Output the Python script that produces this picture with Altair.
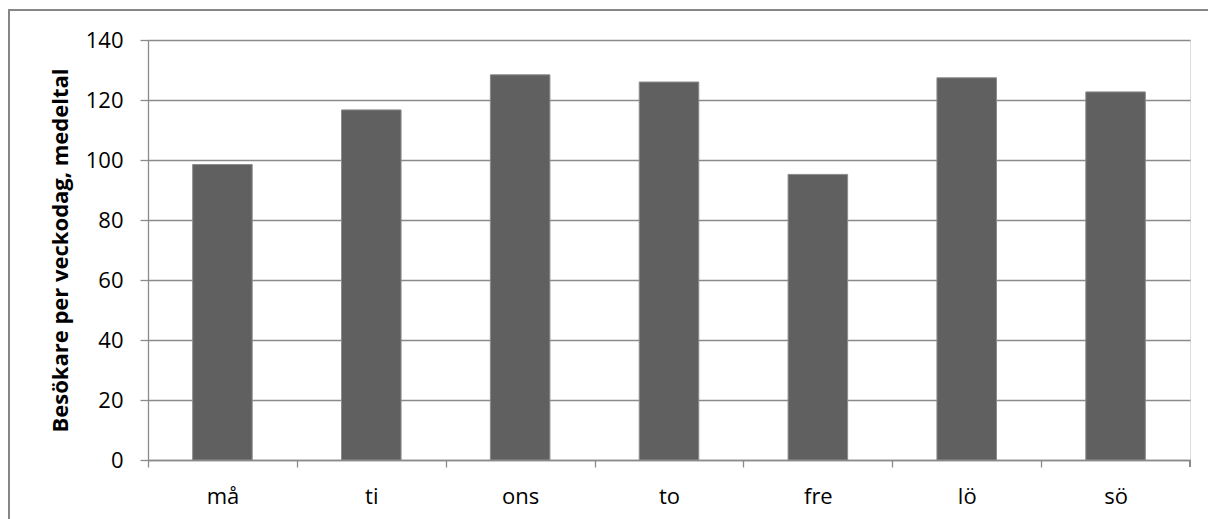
import altair as alt
import pandas as pd

# Average visitors per weekday
days = ["må", "ti", "ons", "to", "fre", "lö", "sö"]
visitors = [98.5, 116.7, 128.4, 126.0, 95.2, 127.4, 122.7]
y_ticks = [0, 20, 40, 60, 80, 100, 120, 140]

df = pd.DataFrame({"dag": days, "besokare": visitors})

FONT = "Open Sans"
GRID = "#8a8a8a"
W, H = 1042, 420
STEP = W / len(days)

bars = alt.Chart(df).mark_bar(
    color="#606060", stroke="#8c8c8c", strokeWidth=1
).encode(
    x=alt.X(
        "dag:N",
        sort=days,
        title=None,
        scale=alt.Scale(paddingInner=0.6, paddingOuter=0.3),
        axis=alt.Axis(
            labelAngle=0,
            labelFont=FONT,
            labelFontSize=22,
            labelColor="#000000",
            labelPadding=19,
            labelOffset=STEP / 2,
            ticks=True,
            tickOffset=-STEP / 2,
            tickSize=7,
            tickColor=GRID,
            tickWidth=1.3,
            domainColor=GRID,
            domainWidth=1.3,
            grid=False,
        ),
    ),
    y=alt.Y(
        "besokare:Q",
        title="Besökare per veckodag, medeltal",
        scale=alt.Scale(domain=[0, 140], nice=False),
        axis=alt.Axis(
            values=y_ticks,
            labelFont=FONT,
            labelFontSize=22,
            labelColor="#000000",
            labelPadding=17,
            tickSize=8,
            tickColor=GRID,
            tickWidth=1.3,
            domainColor=GRID,
            domainWidth=1.3,
            grid=True,
            gridColor=GRID,
            gridWidth=1.3,
            titleFont=FONT,
            titleFontSize=22,
            titleFontWeight="bold",
            titleColor="#000000",
            titlePadding=13,
        ),
    ),
)

# Closing tick at the right end of the category axis
end_tick = alt.Chart(df).mark_rule(color=GRID, strokeWidth=1.3).encode(
    x=alt.value(W), y=alt.value(H), y2=alt.value(H + 7)
)

# Outer frame around the chart area
frame = alt.Chart(df).mark_rect(
    fill=None, stroke="#868686", strokeWidth=2
).encode(
    x=alt.value(-139), x2=alt.value(1200), y=alt.value(-30), y2=alt.value(600)
)

chart = alt.layer(frame, bars, end_tick).properties(
    width=W,
    height=H,
    padding={"left": 148, "top": 40, "right": 18, "bottom": 59},
    autosize=alt.AutoSizeParams(type="none"),
).configure_view(stroke=None).configure(background="#ffffff")

chart.save("out.html", embed_options={"renderer": "svg", "actions": False})
